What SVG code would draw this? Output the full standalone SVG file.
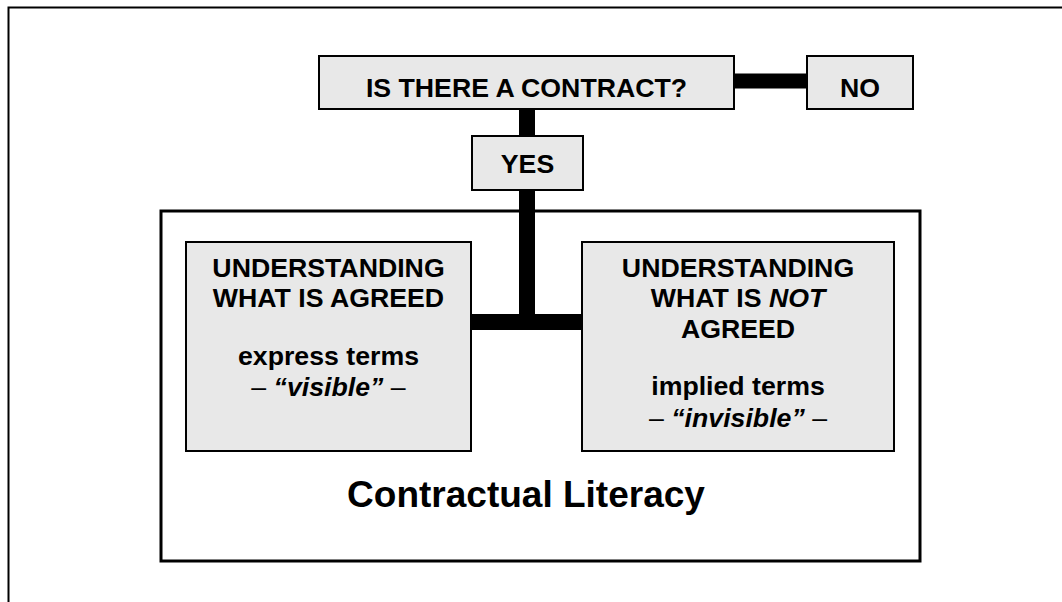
<svg xmlns="http://www.w3.org/2000/svg" width="1062" height="602" viewBox="0 0 1062 602">
<style>
.box{fill:#e8e8e8;stroke:#000;stroke-width:2}
.t{font-family:"Liberation Sans",Arial,sans-serif;font-weight:bold;font-size:26.7px;fill:#000;text-anchor:middle}
.big{font-size:37px}
.d{font-weight:normal}
.conn{stroke:#000;fill:none}
</style>
<rect width="1062" height="602" fill="#fff"/>
<path d="M8.5 602 V7.5 H1062" fill="none" stroke="#000" stroke-width="2"/>
<g id="connectors">
<line class="conn" x1="734" y1="81" x2="807" y2="81" stroke-width="15"/>
<line class="conn" x1="527" y1="109" x2="527" y2="137" stroke-width="16"/>
<line class="conn" x1="527" y1="189" x2="527" y2="330" stroke-width="16"/>
<line class="conn" x1="470" y1="322" x2="583" y2="322" stroke-width="16"/>
</g>
<g id="literacy">
<rect x="161" y="211" width="759" height="350" fill="none" stroke="#000" stroke-width="3"/>
<text class="t big" x="526" y="507">Contractual Literacy</text>
</g>
<g id="question">
<rect class="box" x="319" y="56" width="415" height="53"/>
<text class="t" x="526.5" y="97">IS THERE A CONTRACT?</text>
</g>
<g id="no">
<rect class="box" x="807" y="56" width="106" height="53"/>
<text class="t" x="860" y="97">NO</text>
</g>
<g id="yes">
<rect class="box" x="472" y="136" width="111" height="54"/>
<text class="t" x="527.5" y="173">YES</text>
</g>
<g id="agreed">
<rect class="box" x="186" y="242" width="285" height="209"/>
<text class="t" x="328.5" y="277">UNDERSTANDING</text>
<text class="t" x="328.5" y="307">WHAT IS AGREED</text>
<text class="t" x="328.5" y="365">express terms</text>
<text class="t" x="328.5" y="396"><tspan class="d">–</tspan> <tspan font-style="italic">“visible”</tspan> <tspan class="d">–</tspan></text>
</g>
<g id="notagreed">
<rect class="box" x="582" y="242" width="312" height="209"/>
<text class="t" x="738" y="277">UNDERSTANDING</text>
<text class="t" x="738" y="307">WHAT IS <tspan font-style="italic">NOT</tspan></text>
<text class="t" x="738" y="338">AGREED</text>
<text class="t" x="738" y="395">implied terms</text>
<text class="t" x="738" y="427"><tspan class="d">–</tspan> <tspan font-style="italic">“invisible”</tspan> <tspan class="d">–</tspan></text>
</g>
</svg>
